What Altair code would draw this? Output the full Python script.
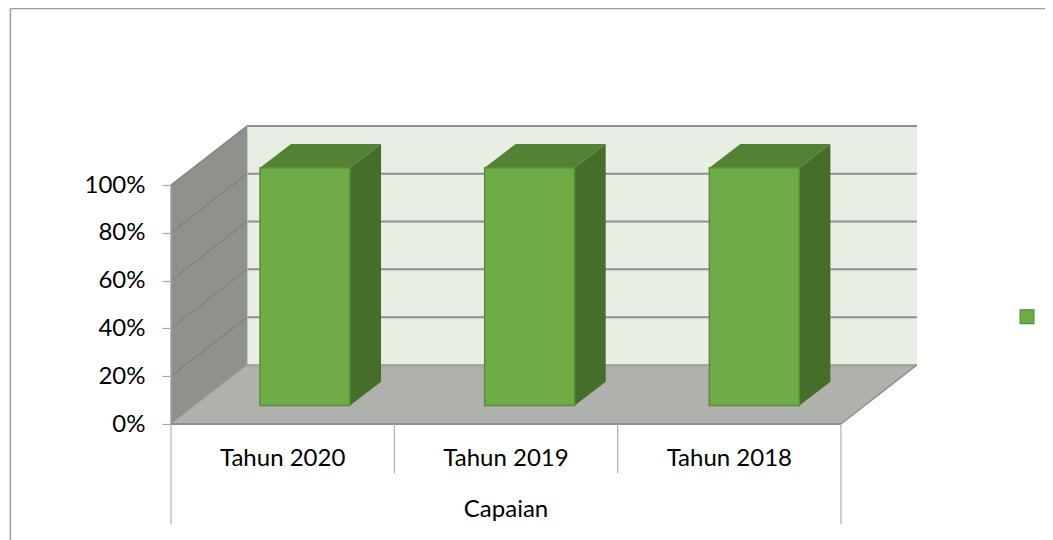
import altair as alt
import pandas as pd

# ---- chart values ----
categories = ["Tahun 2020", "Tahun 2019", "Tahun 2018"]
group_label = ["Capaian"]
values = [99.5, 99.5, 99.5]
ticks = [0, 20, 40, 60, 80, 100]

# ---- 3D box geometry, in data units (categories / percent) ----
DX, DY = 0.34, 24.7          # full depth of the chart box
BAR_W = 0.403
BAR_STEP = 1.006
BAR_SHIFT = 0.1              # front face of bars: shift from category centre
BAR_Y0 = 7.7                 # front face of bars: height above the front floor edge
BAR_DX, BAR_DY = 0.139, 10.0 # depth of a bar
TOP = 100
N = len(categories)

U = 223.33   # px per category
V = 2.39     # px per percent
FONT = "Lato"
FS = 24
xscale = alt.Scale(domain=[-163 / U, 874 / U], range=[0, 1037], nice=False, zero=False)
yscale = alt.Scale(domain=[-116 / V, 416 / V], range=[532, 0], nice=False, zero=False)
yaxis = alt.Axis(
    values=ticks, title=None, domain=False, grid=False, offset=-163,
    tickSize=9, tickColor="#a6a6a6", tickWidth=1.2, labelPadding=17,
    labelExpr="datum.value + '%'", labelFont=FONT, labelFontSize=FS,
    labelColor="#000000", zindex=1)
X = lambda f="x": alt.X(f"{f}:Q", scale=xscale, axis=None)
Y = lambda f="y": alt.Y(f"{f}:Q", scale=yscale, axis=yaxis)

GRID = "#8f8f8f"

# frame of the chart
frame = alt.Chart(pd.DataFrame([
    {"x": -160.6 / U, "x2": 874 / U, "y": 415.6 / V, "y2": 415.6 / V},
    {"x": -160.6 / U, "x2": -160.6 / U, "y": 415.6 / V, "y2": -116 / V},
])).mark_rule(color="#9c9c9c", strokeWidth=1.5).encode(
    x=X(), x2="x2:Q", y=Y(), y2="y2:Q")

# back wall
back = alt.Chart(pd.DataFrame([{"x": DX, "x2": N + DX, "y": DY, "y2": TOP + DY}])).mark_rect(
    color="#E9EEE5").encode(x=X(), x2="x2:Q", y=Y(), y2="y2:Q")
back_grid = alt.Chart(pd.DataFrame({"y": [t + DY for t in ticks[1:]], "x": DX, "x2": N + DX})).mark_rule(
    color=GRID, strokeWidth=2).encode(x=X(), x2="x2:Q", y=Y())
back_left = alt.Chart(pd.DataFrame([{"x": DX, "y": DY, "y2": TOP + DY}])).mark_rule(
    color="#b5b8b2", strokeWidth=1.5).encode(x=X(), y=Y(), y2="y2:Q")

# left wall
left = alt.Chart(pd.DataFrame([
    {"x": 0, "y": 0, "y2": TOP}, {"x": DX, "y": DY, "y2": TOP + DY}
])).mark_area(color="#8F928C").encode(x=X(), y=Y(), y2="y2:Q")
left_rows = []
for t in ticks[1:]:
    left_rows += [{"t": t, "x": 0, "y": t}, {"t": t, "x": DX, "y": t + DY}]
left_grid = alt.Chart(pd.DataFrame(left_rows)).mark_line(color="#7f817c", strokeWidth=1.2).encode(
    x=X(), y=Y(), detail="t:N")
left_edge = alt.Chart(pd.DataFrame([{"x": 0, "y": 0, "y2": TOP}])).mark_rule(
    color="#a3a3a3", strokeWidth=1.5).encode(x=X(), y=Y(), y2="y2:Q")

# floor
floor = alt.Chart(pd.DataFrame([
    {"y": 0, "x": 0, "x2": N}, {"y": DY, "x": DX, "x2": N + DX}
])).mark_area(color="#AEB1AC", orient="horizontal").encode(y=Y(), x=X(), x2="x2:Q")
floor_back = alt.Chart(pd.DataFrame([{"y": DY, "x": DX, "x2": N + DX}])).mark_rule(
    color="#949692", strokeWidth=1.5).encode(x=X(), x2="x2:Q", y=Y())
floor_front = alt.Chart(pd.DataFrame([{"y": 0, "x": 0, "x2": N}])).mark_rule(
    color=GRID, strokeWidth=2).encode(x=X(), x2="x2:Q", y=Y())
edge_rows = [{"e": "r", "x": N, "y": 0}, {"e": "r", "x": N + DX, "y": DY}]
floor_edge = alt.Chart(pd.DataFrame(edge_rows)).mark_line(color="#8f8f8f", strokeWidth=1.5).encode(
    x=X(), y=Y(), detail="e:N")
floor_diag = alt.Chart(pd.DataFrame([
    {"x": 0, "y": 0}, {"x": DX, "y": DY}
])).mark_line(color="#9b9e99", strokeWidth=1).encode(x=X(), y=Y())

# bars
tops, sides, fronts = [], [], []
for i, (c, v) in enumerate(zip(categories, values)):
    l = i * BAR_STEP + 0.5 + BAR_SHIFT - BAR_W / 2
    r = l + BAR_W
    y0, y1 = BAR_Y0, BAR_Y0 + v
    fronts.append({"c": c, "x": l, "x2": r, "y": y0, "y2": y1})
    tops += [{"c": c, "y": y1, "x": l, "x2": r},
             {"c": c, "y": y1 + BAR_DY, "x": l + BAR_DX, "x2": r + BAR_DX}]
    sides += [{"c": c, "x": r, "y": y0, "y2": y1},
              {"c": c, "x": r + BAR_DX, "y": y0 + BAR_DY, "y2": y1 + BAR_DY}]

bar_top = alt.Chart(pd.DataFrame(tops)).mark_area(color="#548235", orient="horizontal").encode(
    y=Y(), x=X(), x2="x2:Q", detail="c:N")
bar_side = alt.Chart(pd.DataFrame(sides)).mark_area(color="#476D2A").encode(
    x=X(), y=Y(), y2="y2:Q", detail="c:N")
bar_front = alt.Chart(pd.DataFrame(fronts)).mark_rect(
    color="#6FAB47", stroke="#5A8C3A", strokeWidth=1.5).encode(
    x=X(), x2="x2:Q", y=Y(), y2="y2:Q")

# category separators
sep_rows = [{"x": i, "y": 0, "y2": (-100 / V if i in (0, N) else -49 / V)} for i in range(N + 1)]
seps = alt.Chart(pd.DataFrame(sep_rows)).mark_rule(color="#b0b0b0", strokeWidth=1.2).encode(
    x=X(), y=Y(), y2="y2:Q")

cat_text = alt.Chart(pd.DataFrame({"label": categories, "x": [i + 0.5 for i in range(N)], "y": -34.5 / V})).mark_text(
    font=FONT, fontSize=FS, color="#000000", baseline="middle").encode(x=X(), y=Y(), text="label:N")
group_text = alt.Chart(pd.DataFrame({"label": group_label, "x": [N / 2], "y": -85.5 / V})).mark_text(
    font=FONT, fontSize=FS, color="#000000", baseline="middle").encode(x=X(), y=Y(), text="label:N")

# legend swatch without label
swatch = alt.Chart(pd.DataFrame({"x": [856 / U], "y": [107.3 / V]})).mark_point(
    shape="square", filled=True, size=190, fill="#6FAB47", stroke="#5A8C3A", strokeWidth=1.2, opacity=1
).encode(x=X(), y=Y())

chart = alt.layer(
    frame, back, back_grid, back_left, left, left_grid, left_edge, floor, floor_back, floor_diag,
    floor_edge, floor_front, bar_top, bar_side, bar_front, seps, cat_text, group_text, swatch,
).properties(
    width=1037, height=532, padding=0, autosize=alt.AutoSizeParams(type="none")
).configure_view(stroke=None)

chart.save("out.html", embed_options={"renderer": "svg", "actions": False})
